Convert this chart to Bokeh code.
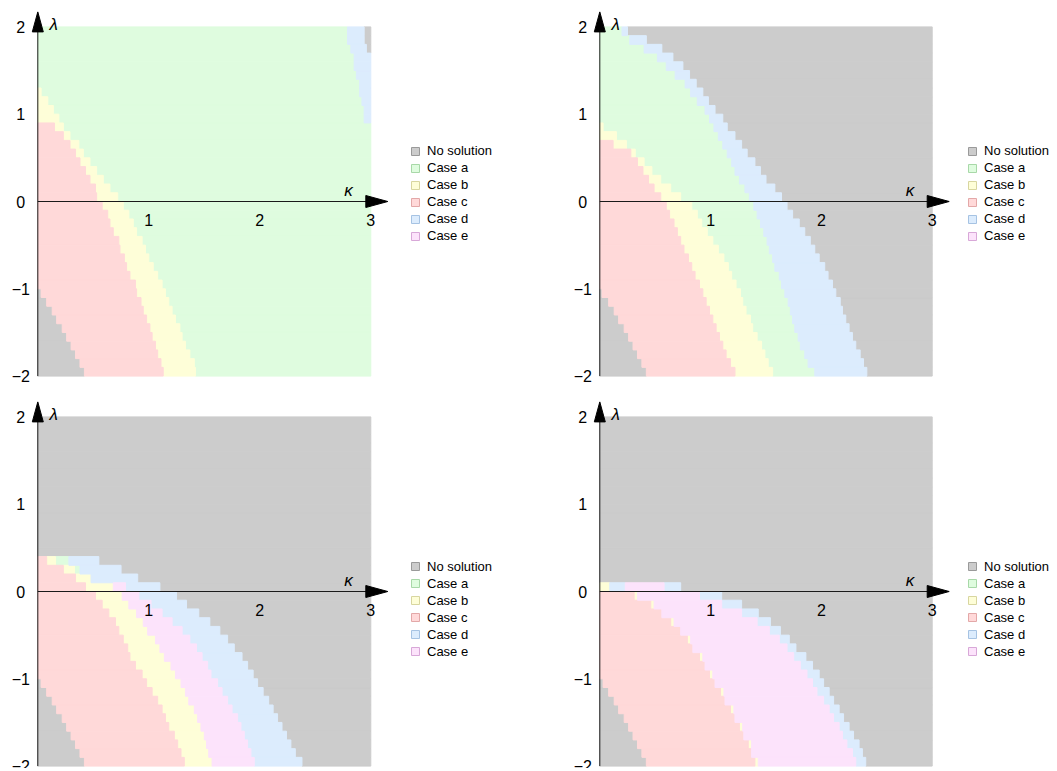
import numpy as np
from bokeh.plotting import figure
from bokeh.models import Range1d, Legend, LegendItem, ColumnDataSource
from bokeh.layouts import gridplot
from bokeh.embed import file_html
from bokeh.resources import INLINE
from bokeh.core.properties import value

# ---------------- data ----------------
# lambda grid rows (bottom edge -2.0 ... top edge 2.0, step 0.1), 40 rows
LAMBDA_EDGES = [round(-2.0 + 0.1 * i, 1) for i in range(41)]
KAPPA_MAX = 3.0

X_TICKS = [1, 2, 3]
X_TICK_LABELS = ["1", "2", "3"]
Y_TICKS = [2, 1, 0, -1, -2]
Y_TICK_LABELS = ["2", "1", "0", "\u22121", "\u22122"]

CASES = ["No solution", "Case a", "Case b", "Case c", "Case d", "Case e"]
CASE_FILL = ["#cccccc", "#dffcdf", "#fefed8", "#ffd9d9", "#dcecfd", "#fce3fb"]
CASE_EDGE = ["#9a9a9a", "#a8d8a8", "#d8d6a0", "#e3a8a8", "#a6c3e3", "#d8a8d8"]

# right edge (kappa) of each region in each lambda row, rows listed bottom -> top
# ---- panel 1 : order  none | c | b | a | d | none
P1_ORDER = ["No solution", "Case c", "Case b", "Case a", "Case d", "No solution"]
P1_NONE = [0.42, 0.38, 0.34, 0.30, 0.26, 0.22, 0.17, 0.13, 0.08, 0.03] + [0.0] * 30
P1_C = [1.13, 1.11, 1.08, 1.06, 1.03, 1.01, 0.98, 0.95, 0.93, 0.89,
        0.88, 0.83, 0.80, 0.78, 0.74, 0.73, 0.68, 0.65, 0.63, 0.58,
        0.53, 0.52, 0.47, 0.43, 0.38, 0.34, 0.29, 0.23, 0.15, 0.0] + [0.0] * 10
P1_B = [1.42, 1.41, 1.37, 1.33, 1.30, 1.28, 1.24, 1.21, 1.18, 1.15,
        1.12, 1.08, 1.04, 1.00, 0.97, 0.94, 0.89, 0.86, 0.82, 0.77,
        0.72, 0.65, 0.59, 0.53, 0.47, 0.41, 0.37, 0.29, 0.23, 0.19,
        0.14, 0.09, 0.03] + [0.0] * 7
P1_A = [3.0] * 29 + [2.94, 2.94, 2.92, 2.90, 2.90, 2.87, 2.85, 2.85, 2.82, 2.79, 2.79]
P1_D = [3.0] * 37 + [2.96, 2.94, 2.94]

# ---- panel 2 : order  none | c | b | a | d | none
P2_ORDER = ["No solution", "Case c", "Case b", "Case a", "Case d", "No solution"]
P2_NONE = [0.42, 0.38, 0.34, 0.30, 0.26, 0.22, 0.17, 0.13, 0.08, 0.02] + [0.0] * 30
P2_C = [1.22, 1.18, 1.14, 1.11, 1.08, 1.05, 1.02, 0.99, 0.96, 0.93,
        0.90, 0.86, 0.83, 0.80, 0.76, 0.73, 0.70, 0.67, 0.63, 0.60,
        0.55, 0.49, 0.44, 0.39, 0.34, 0.28, 0.12, 0.0, 0.0, 0.0] + [0.0] * 10
P2_B = [1.56, 1.52, 1.49, 1.46, 1.42, 1.38, 1.36, 1.32, 1.29, 1.27,
        1.23, 1.19, 1.16, 1.12, 1.07, 1.02, 0.97, 0.92, 0.88, 0.83,
        0.73, 0.64, 0.55, 0.47, 0.40, 0.32, 0.24, 0.15, 0.03, 0.0] + [0.0] * 10
P2_A = [1.94, 1.88, 1.85, 1.81, 1.79, 1.76, 1.74, 1.72, 1.70, 1.67,
        1.64, 1.62, 1.58, 1.56, 1.53, 1.51, 1.48, 1.45, 1.42, 1.39,
        1.35, 1.31, 1.26, 1.22, 1.19, 1.15, 1.11, 1.07, 1.03, 0.99,
        0.95, 0.88, 0.82, 0.77, 0.68, 0.60, 0.52, 0.40, 0.27, 0.20]
P2_D = [2.41, 2.38, 2.35, 2.31, 2.28, 2.25, 2.22, 2.19, 2.17, 2.13,
        2.10, 2.06, 2.03, 1.98, 1.94, 1.90, 1.85, 1.80, 1.74, 1.69,
        1.64, 1.58, 1.50, 1.45, 1.40, 1.33, 1.28, 1.22, 1.15, 1.11,
        1.04, 0.98, 0.93, 0.87, 0.81, 0.75, 0.66, 0.56, 0.42, 0.25]

# ---- panel 3 : order  none | c | b | a | e | d | none
P3_ORDER = ["No solution", "Case c", "Case b", "Case a", "Case e", "Case d", "No solution"]
P3_NONE = [0.42, 0.38, 0.34, 0.30, 0.26, 0.22, 0.17, 0.13, 0.08, 0.03] + [0.0] * 30
P3_C = [1.32, 1.29, 1.26, 1.23, 1.18, 1.15, 1.12, 1.08, 1.03, 0.98,
        0.94, 0.88, 0.83, 0.81, 0.77, 0.73, 0.70, 0.64, 0.58, 0.52,
        0.43, 0.34, 0.23, 0.08] + [0.0] * 16
P3_B = [1.57, 1.54, 1.52, 1.50, 1.47, 1.44, 1.41, 1.36, 1.33, 1.29,
        1.24, 1.20, 1.14, 1.10, 1.06, 0.99, 0.95, 0.89, 0.82, 0.76,
        0.68, 0.48, 0.33, 0.16] + [0.0] * 16
P3_A = [1.57, 1.54, 1.52, 1.50, 1.47, 1.44, 1.41, 1.36, 1.33, 1.29,
        1.24, 1.20, 1.14, 1.10, 1.06, 0.99, 0.95, 0.89, 0.82, 0.76,
        0.68, 0.48, 0.38, 0.28] + [0.0] * 16
P3_E = [1.95, 1.92, 1.89, 1.86, 1.83, 1.80, 1.75, 1.71, 1.66, 1.62,
        1.56, 1.53, 1.48, 1.43, 1.37, 1.30, 1.21, 1.12, 1.02, 0.91,
        0.79, 0.48, 0.38, 0.28] + [0.0] * 16
P3_D = [2.38, 2.32, 2.28, 2.24, 2.20, 2.16, 2.12, 2.08, 2.03, 1.98,
        1.94, 1.89, 1.84, 1.77, 1.71, 1.64, 1.55, 1.45, 1.34, 1.25,
        1.10, 0.90, 0.75, 0.55] + [0.0] * 16

# ---- panel 4 : order  none | c | b | d | e | d | none
P4_ORDER = ["No solution", "Case c", "Case b", "Case d", "Case e", "Case d", "No solution"]
P4_NONE = [0.42, 0.38, 0.34, 0.30, 0.26, 0.22, 0.17, 0.13, 0.08, 0.03] + [0.0] * 30
P4_C = [1.40, 1.37, 1.34, 1.30, 1.26, 1.22, 1.18, 1.13, 1.09, 1.04,
        0.99, 0.95, 0.90, 0.84, 0.79, 0.73, 0.64, 0.56, 0.46, 0.31,
        0.0] + [0.0] * 19
P4_B = [1.43, 1.37, 1.37, 1.30, 1.29, 1.22, 1.21, 1.13, 1.12, 1.04,
        1.02, 0.95, 0.93, 0.84, 0.82, 0.73, 0.67, 0.56, 0.49, 0.34,
        0.09] + [0.0] * 19
P4_D1 = [1.43, 1.37, 1.37, 1.30, 1.29, 1.22, 1.21, 1.13, 1.12, 1.04,
         1.02, 0.95, 0.93, 0.84, 0.82, 0.73, 0.67, 0.56, 0.49, 0.34,
         0.23] + [0.0] * 19
P4_E = [2.31, 2.28, 2.23, 2.19, 2.16, 2.11, 2.07, 2.02, 1.96, 1.92,
        1.87, 1.81, 1.75, 1.69, 1.62, 1.53, 1.42, 1.28, 1.10, 0.90,
        0.58] + [0.0] * 19
P4_D2 = [2.40, 2.37, 2.34, 2.29, 2.25, 2.20, 2.16, 2.11, 2.07, 2.02,
         1.98, 1.92, 1.86, 1.77, 1.71, 1.63, 1.54, 1.43, 1.28, 1.10,
         0.73] + [0.0] * 19

PANELS = [
    dict(order=P1_ORDER, bounds=[P1_NONE, P1_C, P1_B, P1_A, P1_D]),
    dict(order=P2_ORDER, bounds=[P2_NONE, P2_C, P2_B, P2_A, P2_D]),
    dict(order=P3_ORDER, bounds=[P3_NONE, P3_C, P3_B, P3_A, P3_E, P3_D]),
    dict(order=P4_ORDER, bounds=[P4_NONE, P4_C, P4_B, P4_D1, P4_E, P4_D2]),
]

# ---------------- layout (pixels) ----------------
FONT = "Liberation Sans"
SX_LEFT, SX_RIGHT = 111.0, 110.8   # px per kappa unit
SY = 87.3                           # px per lambda unit
LAYOUT = [
    # canvas w, h, axis origin x / y (px inside canvas), px per kappa, legend left, legend first-row centre
    dict(w=560, h=398, ox=37.3, oy=201.0, sx=SX_LEFT, lx=410, ly=150.7),
    dict(w=494, h=398, ox=39.3, oy=201.0, sx=SX_RIGHT, lx=407, ly=150.7),
    dict(w=560, h=370, ox=37.3, oy=193.0, sx=SX_LEFT, lx=410, ly=168.0),
    dict(w=494, h=370, ox=39.3, oy=193.0, sx=SX_RIGHT, lx=407, ly=168.0),
]


def make_panel(data, lay):
    w, h, ox, oy, sx = lay["w"], lay["h"], lay["ox"], lay["oy"], lay["sx"]
    x0 = -ox / sx
    y1 = oy / SY
    p = figure(width=w, height=h,
               x_range=Range1d(x0, x0 + w / sx), y_range=Range1d(y1 - h / SY, y1),
               output_backend="svg", toolbar_location=None,
               x_axis_location=None, y_axis_location=None,
               min_border=0, min_border_left=0, min_border_right=0,
               min_border_top=0, min_border_bottom=0,
               outline_line_color=None, background_fill_color="white",
               border_fill_color="white")
    p.grid.visible = False

    order, bounds = data["order"], data["bounds"]
    nrows = len(LAMBDA_EDGES) - 1
    cells = {c: dict(left=[], right=[], bottom=[], top=[]) for c in CASES}
    for j, case in enumerate(order):
        for i in range(nrows):
            left = 0.0 if j == 0 else bounds[j - 1][i]
            right = KAPPA_MAX if j == len(order) - 1 else bounds[j][i]
            if right > left + 1e-9:
                d = cells[case]
                d["left"].append(left)
                d["right"].append(right)
                d["bottom"].append(LAMBDA_EDGES[i])
                d["top"].append(LAMBDA_EDGES[i + 1])
    for k, case in enumerate(CASES):
        p.quad(source=ColumnDataSource(cells[case]), left="left", right="right",
               bottom="bottom", top="top", fill_color=CASE_FILL[k],
               line_color=CASE_FILL[k], line_width=1)

    # axes with arrow heads
    p.segment(x0=[0], y0=[0], x1=[KAPPA_MAX + 15.0 / sx], y1=[0], line_color="#1a1a1a", line_width=1)
    p.segment(x0=[0], y0=[-2], x1=[0], y1=[2 + 13.0 / SY], line_color="#1a1a1a", line_width=1)
    tipx, basex, hwx = KAPPA_MAX + 17.0 / sx, KAPPA_MAX - 5.0 / sx, 6.0 / SY
    p.patch(x=[tipx, basex, basex], y=[0, hwx, -hwx], fill_color="black", line_color="black")
    tipy, basey, hwy = 2 + 15.0 / SY, 2 - 5.0 / SY, 5.5 / sx
    p.patch(x=[0, hwy, -hwy], y=[tipy, basey, basey], fill_color="black", line_color="black")

    # tick labels
    p.text(x=X_TICKS, y=[0] * len(X_TICKS), text=X_TICK_LABELS, y_offset=18,
           text_align="center", text_baseline="middle", text_font=value(FONT),
           text_font_size=value("16px"), text_color="black")
    p.text(x=[0] * len(Y_TICKS), y=Y_TICKS, text=Y_TICK_LABELS, x_offset=-17,
           text_align="center", text_baseline="middle", text_font=value(FONT),
           text_font_size=value("16px"), text_color="black")
    # axis labels
    p.text(x=[2.80], y=[0], text=["\u03ba"], y_offset=-11, text_align="center",
           text_baseline="middle", text_font=value(FONT), text_font_style="italic",
           text_font_size=value("17px"), text_color="black")
    p.text(x=[0], y=[2], text=["\u03bb"], x_offset=16, y_offset=-2, text_align="center",
           text_baseline="middle", text_font=value(FONT), text_font_style="italic",
           text_font_size=value("17px"), text_color="black")

    # legend (swatch renderers hold one non-drawable NaN cell so the legend shows them)
    items = []
    for k, case in enumerate(CASES):
        src = ColumnDataSource(dict(left=np.array([np.nan]), right=np.array([np.nan]),
                                    bottom=np.array([np.nan]), top=np.array([np.nan])))
        r = p.quad(source=src, left="left", right="right", bottom="bottom", top="top",
                   fill_color=CASE_FILL[k], line_color=CASE_EDGE[k], line_width=1)
        items.append(LegendItem(label=case, renderers=[r]))
    item_h, spacing = 15, 2
    leg_h = 6 * item_h + 5 * spacing
    top_px = lay["ly"] - item_h / 2.0
    legend = Legend(items=items, location=(lay["lx"], h - top_px - leg_h),
                    glyph_width=10, glyph_height=10, label_height=item_h,
                    label_standoff=7, spacing=spacing, padding=0, margin=0,
                    label_text_font=FONT, label_text_font_size="13px",
                    label_text_color="black", border_line_color=None,
                    background_fill_alpha=0.0)
    p.add_layout(legend)
    return p


figs = [make_panel(d, l) for d, l in zip(PANELS, LAYOUT)]
layout = gridplot([[figs[0], figs[1]], [figs[2], figs[3]]], toolbar_location=None)

open("out.html", "w").write(file_html(layout, INLINE))
